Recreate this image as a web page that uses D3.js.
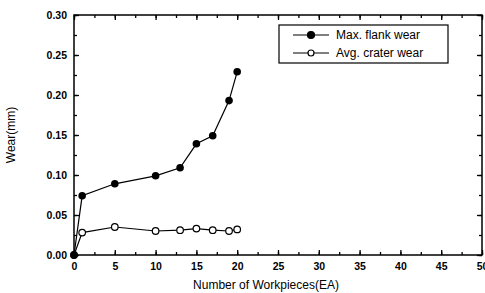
<!DOCTYPE html>
<html>
<head>
<meta charset="utf-8">
<script src="https://cdn.jsdelivr.net/npm/d3@7"></script>
<style>
  body { margin: 0; background: #fff; }
  svg { font-family: "Liberation Sans", Arial, sans-serif; }
</style>
</head>
<body>
<svg id="chart" width="485" height="293"></svg>
<script>
// workpieces count
const workpieces = [0, 1, 5, 10, 13, 15, 17, 19, 20];
// wear values (mm)
const flankWear = [0, 0.074, 0.089, 0.099, 0.109, 0.139, 0.149, 0.193, 0.229];
const craterWear = [0, 0.028, 0.035, 0.030, 0.031, 0.033, 0.031, 0.030, 0.032];
const xTicks = [0, 5, 10, 15, 20, 25, 30, 35, 40, 45, 50];
const yTicks = [0, 0.05, 0.10, 0.15, 0.20, 0.25, 0.30];
const legendLabels = ['Max. flank wear', 'Avg. crater wear'];

const margin = { left: 74, right: 3, top: 15, bottom: 38 };
const width = 485, height = 293;

const svg = d3.select('#chart');

const x = d3.scaleLinear().domain([0, 50]).range([margin.left, width - margin.right]);
const y = d3.scaleLinear().domain([0, 0.30]).range([height - margin.bottom, margin.top]);

const minorX = d3.range(0, 50.01, 2.5);
const minorY = d3.range(0, 0.3001, 0.025);

// frame
svg.append('rect')
    .attr('x', x(0)).attr('y', y(0.30))
    .attr('width', x(50) - x(0)).attr('height', y(0) - y(0.30))
    .attr('fill', 'none').attr('stroke', '#000').attr('stroke-width', 1.5);

// axes with inward ticks
svg.append('g').attr('transform', `translate(0,${y(0)})`)
    .call(d3.axisBottom(x).tickValues(minorX).tickSize(-3).tickFormat(''));
svg.append('g').attr('transform', `translate(0,${y(0)})`)
    .call(d3.axisBottom(x).tickValues(xTicks).tickSize(-5).tickPadding(8).tickFormat(d3.format('d')));
svg.append('g').attr('transform', `translate(0,${y(0.30)})`)
    .call(d3.axisTop(x).tickValues(minorX).tickSize(-3).tickFormat(''));
svg.append('g').attr('transform', `translate(0,${y(0.30)})`)
    .call(d3.axisTop(x).tickValues(xTicks).tickSize(-5).tickFormat(''));
svg.append('g').attr('transform', `translate(${x(0)},0)`)
    .call(d3.axisLeft(y).tickValues(minorY).tickSize(-3).tickFormat(''));
svg.append('g').attr('transform', `translate(${x(0)},0)`)
    .call(d3.axisLeft(y).tickValues(yTicks).tickSize(-5).tickPadding(7).tickFormat(d3.format('.2f')));
svg.append('g').attr('transform', `translate(${x(50)},0)`)
    .call(d3.axisRight(y).tickValues(minorY).tickSize(-3).tickFormat(''));
svg.append('g').attr('transform', `translate(${x(50)},0)`)
    .call(d3.axisRight(y).tickValues(yTicks).tickSize(-5).tickFormat(''));

svg.selectAll('.domain').remove();
svg.selectAll('.tick line').attr('stroke', '#000').attr('stroke-width', 1.3);
svg.selectAll('.tick text')
    .attr('fill', '#000')
    .style('font-size', '10.5px')
    .style('font-weight', 'bold');

// axis titles
svg.append('text')
    .attr('x', 266).attr('y', 289)
    .attr('text-anchor', 'middle')
    .style('font-size', '12px')
    .text('Number of Workpieces(EA)');
svg.append('text')
    .attr('transform', `translate(15,${(y(0) + y(0.30)) / 2}) rotate(-90)`)
    .attr('text-anchor', 'middle')
    .style('font-size', '12px')
    .text('Wear(mm)');

// series
const line = d3.line().x(d => x(d[0])).y(d => y(d[1]));
const flank = workpieces.map((w, i) => [w, flankWear[i]]);
const crater = workpieces.map((w, i) => [w, craterWear[i]]);

svg.append('path').datum(flank)
    .attr('d', line).attr('fill', 'none').attr('stroke', '#000').attr('stroke-width', 1.2);
svg.append('path').datum(crater)
    .attr('d', line).attr('fill', 'none').attr('stroke', '#000').attr('stroke-width', 1.2);

svg.append('g').selectAll('circle').data(crater).enter().append('circle')
    .attr('cx', d => x(d[0])).attr('cy', d => y(d[1])).attr('r', 3.3)
    .attr('fill', '#fff').attr('stroke', '#000').attr('stroke-width', 1.2);
svg.append('g').selectAll('circle').data(flank).enter().append('circle')
    .attr('cx', d => x(d[0])).attr('cy', d => y(d[1])).attr('r', 3.8)
    .attr('fill', '#000');

// legend
const legend = svg.append('g');
legend.append('rect')
    .attr('x', 279).attr('y', 25).attr('width', 169).attr('height', 38)
    .attr('fill', '#fff').attr('stroke', '#000').attr('stroke-width', 1.2);
legendLabels.forEach((label, i) => {
    const ly = 35 + i * 18;
    legend.append('line')
        .attr('x1', 293).attr('x2', 329).attr('y1', ly).attr('y2', ly)
        .attr('stroke', '#000').attr('stroke-width', 1.2);
    legend.append('circle')
        .attr('cx', 311).attr('cy', ly).attr('r', i === 0 ? 3.5 : 3)
        .attr('fill', i === 0 ? '#000' : '#fff')
        .attr('stroke', '#000').attr('stroke-width', 1.2);
    legend.append('text')
        .attr('x', 336).attr('y', ly + 4)
        .style('font-size', '12px')
        .text(label);
});
</script>
</body>
</html>
